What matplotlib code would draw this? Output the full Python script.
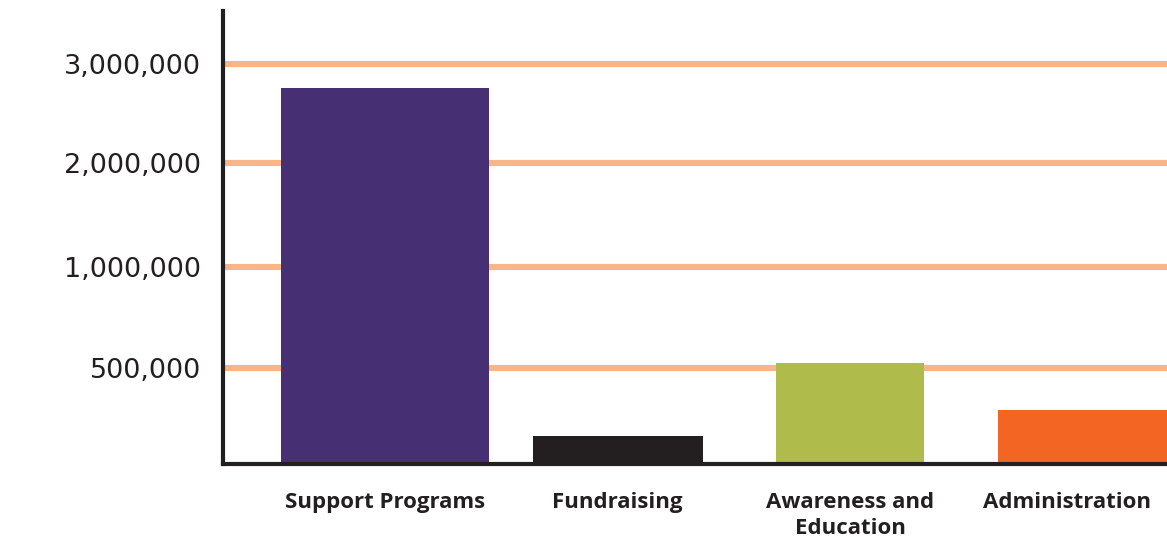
import numpy as np
import matplotlib
matplotlib.use("Agg")
import matplotlib.pyplot as plt
import matplotlib.transforms as mtransforms

categories = ["Support Programs", "Fundraising", "Awareness and\nEducation", "Administration"]
amounts = [2760000, 146000, 525000, 281000]
tick_values = [500000, 1000000, 2000000, 3000000]
tick_labels = ["500,000", "1,000,000", "2,000,000", "3,000,000"]

colors = ["#472F74", "#231F20", "#AFBB4B", "#F26522"]
widths = [0.895, 0.731, 0.637, 0.727]

# the y axis is not linear: each tick sits about the same distance apart
scale_vals = [0, 500000, 1000000, 2000000, 3000000, 4000000]
scale_pos = [0, 96, 197, 301, 400, 500]


def forward(v):
    return np.interp(v, scale_vals, scale_pos)


def inverse(p):
    return np.interp(p, scale_pos, scale_vals)


fig = plt.figure(figsize=(11.67, 5.37), dpi=100)
ax = fig.add_axes([223 / 1167, 73 / 537, 944 / 1167, 453 / 537])
ax.set_yscale("function", functions=(forward, inverse))

x = np.arange(len(categories))
ax.bar(x, amounts, width=widths, color=colors, zorder=3)

ax.set_xlim(-0.697, 3.363)
ax.set_ylim(0, inverse(453))

ax.set_yticks(tick_values)
ax.set_yticklabels(tick_labels)
for lab in ax.get_yticklabels():
    lab.set_fontfamily("DejaVu Sans")
    lab.set_fontsize(19.5)
    lab.set_color("#231F20")
ax.yaxis.grid(True, color="#F9B588", linewidth=4.4, zorder=0)
ax.set_axisbelow(True)
ax.minorticks_off()

ax.set_xticks(x)
ax.set_xticklabels(categories)
for lab in ax.get_xticklabels():
    lab.set_fontfamily("Open Sans")
    lab.set_fontsize(16)
    lab.set_fontweight("bold")
    lab.set_color("#231F20")
    lab.set_linespacing(1.3)
ax.tick_params(axis="x", length=0, pad=20)
ax.tick_params(axis="y", length=0, pad=16)

# the last label sits a little left of its bar, as in the original
last = ax.get_xticklabels()[-1]
last.set_transform(last.get_transform() +
                   mtransforms.ScaledTranslation(-16 / 100, 0, fig.dpi_scale_trans))

for side in ["top", "right"]:
    ax.spines[side].set_visible(False)
for side in ["left", "bottom"]:
    ax.spines[side].set_color("#231F20")
    ax.spines[side].set_linewidth(3)
    ax.spines[side].set_zorder(4)

fig.savefig("out.png", dpi=100)
